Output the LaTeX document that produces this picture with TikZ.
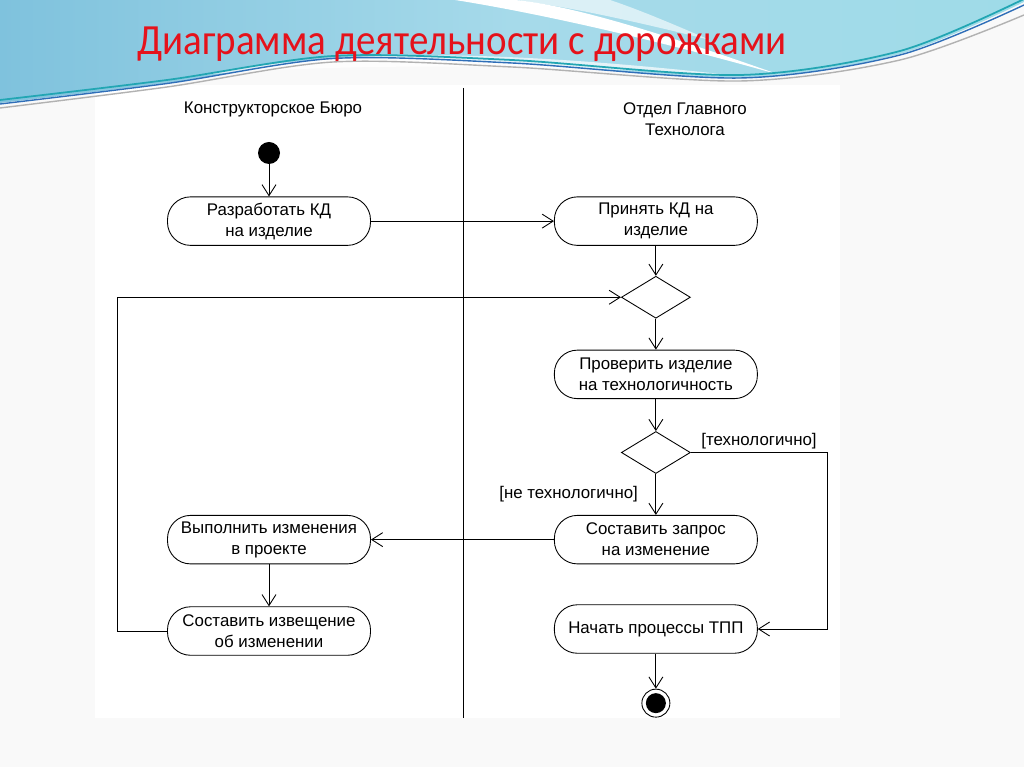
\documentclass[tikz,border=0pt]{standalone}
\usepackage{fontspec}
\setmainfont{Liberation Sans}
\newfontfamily\titlefont{Carlito}
\usepackage{xcolor}
\usepackage{graphicx}
\usetikzlibrary{shapes.geometric, arrows.meta, positioning}

\definecolor{titlered}{HTML}{E5121B}
\definecolor{waveblue}{HTML}{7FC2DD}
\definecolor{wavemid}{HTML}{A6DAEA}
\definecolor{wavecyan}{HTML}{9FDBE8}
\definecolor{waveteal}{HTML}{22A6B3}
\definecolor{wavenavy}{HTML}{2F6EB8}
\definecolor{slidebg}{HTML}{F9F9F9}

\begin{document}
\begin{tikzpicture}[
            node distance=0.6cm,
            activity/.style={rectangle, draw, rounded corners=0.46cm, minimum width=4.06cm, minimum height=0.97cm, align=center, inner sep=1pt, font=\fontsize{9.6}{11.9}\selectfont},
            decision/.style={diamond, draw, minimum width=1.38cm, minimum height=0.84cm, inner sep=0pt},
            lane/.style={align=center, font=\fontsize{9.6}{11.9}\selectfont},
            guard/.style={font=\fontsize{9.6}{11.9}\selectfont, inner sep=2pt},
            arrow/.style={-{Straight Barb[length=2.2mm, width=2.8mm]}, line width=0.5pt},
            every path/.style={line width=0.5pt}
        ]
            \useasboundingbox (0,0) rectangle (20.48,-15.34);
            \fill[slidebg] (0,0) rectangle (20.48,-15.34);
            \fill[white] (1.9,-1.7) rectangle (16.8,-14.36);

            % slide header waves
            \shade[left color=waveblue, right color=wavecyan, middle color=wavemid] (0,0) -- (20.48,0)
                -- plot[smooth] coordinates {(20.48,-0.04) (18,-1.08) (14.8,-1.56) (10.24,-1.26) (6.66,-1.18) (3.34,-1.66) (0,-2.06)} -- cycle;
            \fill[white, opacity=0.7] (4,-1.5) .. controls (7,-0.95) and (10,-1.0) .. (14.6,-1.5)
                .. controls (11,-1.3) and (7,-1.25) .. (4,-1.5) -- cycle;
            \fill[white] (9.1,0) .. controls (11,-0.3) and (13.5,-0.9) .. (15.6,-1.5)
                .. controls (13.2,-0.65) and (11.4,-0.1) .. (10.3,0) -- cycle;
            \fill[white, opacity=0.6] (10.3,0) -- (12.2,0) .. controls (12.8,-0.2) and (13.5,-0.5) .. (14.2,-0.8)
                .. controls (13,-0.5) and (11.5,-0.15) .. (10.3,0) -- cycle;
            \draw[waveteal, line width=1pt] plot[smooth] coordinates {(0,-2.0) (3.34,-1.6) (6.66,-1.12) (10.24,-1.2) (14.8,-1.5) (18,-1.02) (20.48,0.02)};
            \draw[wavenavy, line width=0.8pt] plot[smooth] coordinates {(0,-2.08) (3.34,-1.67) (6.66,-1.17) (10.24,-1.26) (14.8,-1.56) (18,-1.1) (20.48,-0.1)};
            \draw[gray!60, line width=0.8pt] plot[smooth] coordinates {(0,-2.16) (3.34,-1.74) (6.66,-1.24) (10.24,-1.34) (14.8,-1.62) (18,-1.2) (20.48,-0.3)};

            \node[anchor=base west, text=titlered, font=\titlefont\fontsize{24.5}{30}\selectfont, inner sep=0pt] (title) at (2.74,-1.1) {\scalebox{0.905}[1]{Диаграмма деятельности с дорожками}};

            % swimlanes
            \node[lane] (lanekb) at (5.46,-2.18) {Конструкторское Бюро};
            \node[lane] (laneogt) at (13.7,-2.38) {Отдел Главного\\Технолога};
            \coordinate (septop) at (9.26,-1.76);
            \coordinate (sepbot) at (9.26,-14.36);
            \draw (septop) -- (sepbot);

            % nodes
            \node[circle, fill=black, minimum size=0.44cm, inner sep=0pt] (start) at (5.38,-3.06) {};
            \node[activity, below=0.64cm of start] (develop) {Разработать КД\\на изделие};
            \node[activity, right=3.66cm of develop] (accept) {Принять КД на\\изделие};
            \node[decision, below=0.6cm of accept] (merge) {};
            \node[activity, below=0.62cm of merge] (check) {Проверить изделие\\на технологичность};
            \node[decision, below=0.64cm of check] (branch) {};
            \node[activity, below=0.82cm of branch] (request) {Составить запрос\\на изменение};
            \node[activity, below=0.8cm of request] (begintpp) {Начать процессы ТПП};
            \node[circle, draw, minimum size=0.56cm, inner sep=0pt, below=0.7cm of begintpp] (finish) {};
            \node[circle, fill=black, minimum size=0.4cm, inner sep=0pt] (finishdot) at (finish.center) {};
            \node[activity, left=3.66cm of request] (execute) {Выполнить изменения\\в проекте};
            \node[activity, below=0.84cm of execute] (notice) {Составить извещение\\об изменении};

            % flows
            \draw[arrow] (start) -- (develop);
            \draw[arrow] (develop) -- (accept);
            \draw[arrow] (accept) -- (merge);
            \draw[arrow] (merge) -- (check);
            \draw[arrow] (check) -- (branch);
            \draw[arrow] (branch.east) -- ++(2.73,0) node[midway, above, guard] {[технологично]} |- (begintpp.east);
            \draw[arrow] (branch) -- node[left, guard, xshift=-0.28cm] {[не технологично]} (request);
            \draw[arrow] (request) -- (execute);
            \draw[arrow] (execute) -- (notice);
            \draw[arrow] (notice.west) -- ++(-1,0) |- (merge.west);
            \draw[arrow] (begintpp) -- (finish);
        \end{tikzpicture}
\end{document}
